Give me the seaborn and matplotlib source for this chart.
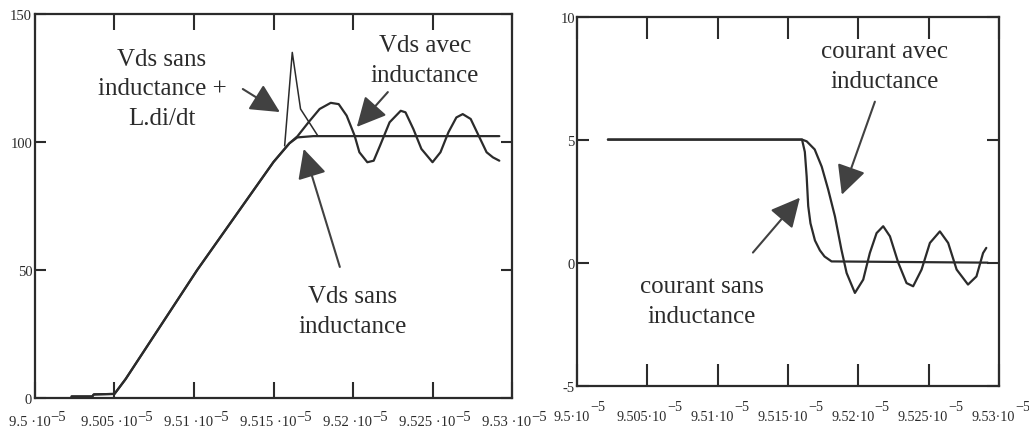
import matplotlib
matplotlib.use("Agg")
import matplotlib.pyplot as plt
import matplotlib.transforms as mtransforms
import seaborn as sns

# ---- time axis (units of 1e-5 s) -------------------------------------------
xtick_vals = [9.500, 9.505, 9.510, 9.515, 9.520, 9.525, 9.530]
xtick_text = ["9.5", "9.505", "9.51", "9.515", "9.52", "9.525", "9.53"]
xtick_exp = "\u22125"

# ---- left panel: drain-source voltage --------------------------------------
vds_sans_t = [9.5023, 9.5036, 9.5037, 9.5050, 9.5057, 9.5102, 9.5150, 9.5160,
              9.5165, 9.5175, 9.5292]
vds_sans_v = [0.6, 0.6, 1.4, 1.6, 7.4, 50.0, 92.2, 99.5, 101.8, 102.3, 102.3]

vds_avec_t = [9.5023, 9.5036, 9.5037, 9.5050, 9.5057, 9.5102, 9.5150, 9.5160,
              9.5165, 9.5172, 9.5179, 9.5186, 9.5191, 9.5196, 9.5201, 9.5204,
              9.5209, 9.5213, 9.5217, 9.5223, 9.5230, 9.5233, 9.5238, 9.5243,
              9.5250, 9.5255, 9.5260, 9.5265, 9.5269, 9.5274, 9.5279, 9.5284,
              9.5288, 9.5292]
vds_avec_v = [0.6, 0.6, 1.4, 1.6, 7.4, 50.0, 92.2, 99.5,
              102.2, 107.7, 112.9, 115.3, 114.8, 110.3, 102.5, 96.0,
              92.1, 92.7, 98.6, 107.7, 112.2, 111.6, 105.0, 97.3,
              92.1, 96.0, 103.8, 109.6, 110.9, 109.0, 102.5, 96.0,
              94.0, 92.7]

vds_ldi_t = [9.5157, 9.51618, 9.5167, 9.5178]
vds_ldi_v = [98.5, 135.0, 112.9, 102.3]

vds_yticks = [0, 50, 100, 150]
vds_ytext = ["0", "50", "100", "150"]

# ---- right panel: drain current --------------------------------------------
cour_sans_t = [9.5022, 9.5160, 9.5162, 9.51633, 9.51644, 9.5166, 9.51692,
               9.51727, 9.5176, 9.5181, 9.5292]
cour_sans_i = [5.0, 5.0, 4.5, 3.5, 2.3, 1.6, 0.9, 0.5, 0.25, 0.05, 0.0]

cour_avec_t = [9.5022, 9.5160, 9.51633, 9.5169, 9.5174, 9.51786, 9.51834,
               9.5188, 9.51917, 9.51976, 9.52035, 9.52082, 9.5213, 9.52177,
               9.52225, 9.52284, 9.52343, 9.5239, 9.5245, 9.52509, 9.5258,
               9.52639, 9.52699, 9.5278, 9.5284, 9.52887, 9.5291]
cour_avec_i = [5.0, 5.0, 4.93, 4.6, 3.9, 2.97, 1.88,
               0.53, -0.42, -1.23, -0.69, 0.39, 1.2, 1.48,
               1.07, 0.0, -0.83, -0.96, -0.28, 0.8, 1.27,
               0.8, -0.28, -0.89, -0.56, 0.39, 0.6]

cour_yticks = [-5, 0, 5, 10]
cour_ytext = ["-5", "0", "5", "10"]

# ---- style ------------------------------------------------------------------
sns.set_style("ticks")
plt.rcParams["font.family"] = ["Liberation Serif", "DejaVu Serif"]

INK = "#2b2b2b"
HEAD = "#414141"
LBL = dict(fontsize=18, color=INK, ha="center", va="center", linespacing=1.45)

fig = plt.figure(figsize=(10.29, 4.39), dpi=100)
ax1 = fig.add_axes([0.0340, 0.0911, 0.4636, 0.8747])
ax2 = fig.add_axes([0.5607, 0.1191, 0.4101, 0.8410])


def frame(ax, ylim, yticks, ytext, xlen, ylen, ypad, base_drop, exp_raise,
          sep, size):
    ax.set_xlim(9.5, 9.53)
    ax.set_ylim(*ylim)
    ax.set_xticks(xtick_vals)
    ax.set_yticks(yticks, ytext)
    ax.tick_params(axis="x", direction="in", top=True, bottom=True,
                   labelbottom=False, length=xlen, width=1.5, color=INK)
    ax.tick_params(axis="y", direction="in", left=True, right=True,
                   length=ylen, width=1.5, color=INK, pad=ypad,
                   labelsize=10.5, labelcolor=INK)
    for sp in ax.spines.values():
        sp.set_visible(True)
        sp.set_linewidth(1.6)
        sp.set_color(INK)
    ax.set_xlabel("")
    ax.set_ylabel("")
    # tick labels "9.505·10" with a raised "-5", centred as a whole on the tick
    tr_base = mtransforms.offset_copy(ax.get_xaxis_transform(), fig=fig,
                                      x=-4.0, y=-base_drop, units="points")
    for val, txt in zip(xtick_vals, xtick_text):
        base = ax.text(val, 0, txt + sep + "\u00b710", transform=tr_base,
                       ha="center", va="baseline", fontsize=size, color=INK,
                       clip_on=False)
        ax.annotate(xtick_exp, xy=(1, 0), xycoords=base,
                    xytext=(0.3, exp_raise), textcoords="offset points",
                    ha="left", va="baseline", fontsize=size, color=INK,
                    annotation_clip=False)


def arrow(ax, tail, tip):
    ax.annotate("", xy=tip, xytext=tail,
                arrowprops=dict(arrowstyle="-|>,head_length=0.9,head_width=0.45",
                                mutation_scale=20, lw=1.5, color=INK,
                                fc=HEAD, ec=HEAD, shrinkA=0, shrinkB=0))


# ---- left panel ---------------------------------------------------------------
sns.lineplot(x=vds_sans_t, y=vds_sans_v, ax=ax1, sort=False, estimator=None,
             color=INK, lw=1.6)
sns.lineplot(x=vds_avec_t, y=vds_avec_v, ax=ax1, sort=False, estimator=None,
             color=INK, lw=1.6)
sns.lineplot(x=vds_ldi_t, y=vds_ldi_v, ax=ax1, sort=False, estimator=None,
             color=INK, lw=1.1)
frame(ax1, (0, 150), vds_yticks, vds_ytext, 11.5, 8, 2, 19.5, 5.5, " ", 10.5)

ax1.text(9.50798, 121.0, "Vds sans\ninductance +\nL.di/dt", **LBL)
arrow(ax1, (9.51307, 120.7), (9.5154, 111.7))
ax1.text(9.52451, 132.0, "Vds avec\ninductance", **LBL)
arrow(ax1, (9.52219, 119.5), (9.52024, 105.9))
ax1.text(9.51999, 34.0, "Vds sans\ninductance", **LBL)
arrow(ax1, (9.51917, 51.2), (9.5169, 97.3))

# ---- right panel --------------------------------------------------------------
sns.lineplot(x=cour_sans_t, y=cour_sans_i, ax=ax2, sort=False, estimator=None,
             color=INK, lw=1.6)
sns.lineplot(x=cour_avec_t, y=cour_avec_i, ax=ax2, sort=False, estimator=None,
             color=INK, lw=1.6)
frame(ax2, (-5, 10), cour_yticks, cour_ytext, 16, 8.5, 1.5, 24.5, 9.0, "", 10.2)

ax2.text(9.52189, 8.0, "courant avec\ninductance", **LBL)
arrow(ax2, (9.52118, 6.54), (9.51883, 2.76))
ax2.text(9.50888, -1.55, "courant sans\ninductance", **LBL)
arrow(ax2, (9.51251, 0.41), (9.51585, 2.64))

fig.savefig("out.png", dpi=100, facecolor="white")
